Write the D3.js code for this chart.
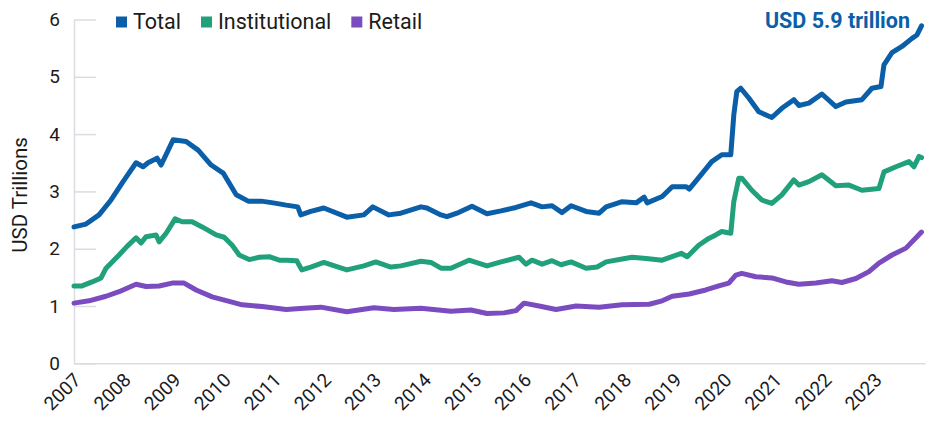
<!DOCTYPE html>
<html>
<head>
<meta charset="utf-8">
<script src="https://cdn.jsdelivr.net/npm/d3@7"></script>
<style>
  html, body { margin: 0; padding: 0; background: #fff; }
  svg { display: block; font-family: Roboto, "Noto Sans", sans-serif; }
</style>
</head>
<body>
<svg id="chart" width="927" height="421"></svg>
<script>
// ---- data (decimal year, USD trillions) ----
const years = [2007, 2008, 2009, 2010, 2011, 2012, 2013, 2014, 2015, 2016, 2017, 2018, 2019, 2020, 2021, 2022, 2023];
const yTicks = [0, 1, 2, 3, 4, 5, 6];
const seriesNames = ["Total", "Institutional", "Retail"];

const totalData = [
  [2007.00, 2.38], [2007.24, 2.43], [2007.50, 2.59], [2007.74, 2.85], [2007.98, 3.17],
  [2008.24, 3.50], [2008.38, 3.43], [2008.48, 3.50], [2008.66, 3.58], [2008.74, 3.46],
  [2008.98, 3.90], [2009.24, 3.87], [2009.48, 3.72], [2009.74, 3.46], [2009.98, 3.32],
  [2010.24, 2.94], [2010.48, 2.83], [2010.74, 2.83], [2010.98, 2.80], [2011.24, 2.76],
  [2011.47, 2.73], [2011.53, 2.59], [2011.73, 2.65], [2011.99, 2.71], [2012.45, 2.55],
  [2012.79, 2.59], [2012.97, 2.73], [2013.29, 2.59], [2013.53, 2.62], [2013.93, 2.73],
  [2014.05, 2.71], [2014.33, 2.59], [2014.45, 2.56], [2014.65, 2.62], [2014.95, 2.74],
  [2015.25, 2.61], [2015.53, 2.66], [2015.83, 2.72], [2016.13, 2.80], [2016.35, 2.73],
  [2016.55, 2.75], [2016.75, 2.63], [2016.93, 2.75], [2017.23, 2.65], [2017.49, 2.62],
  [2017.63, 2.73], [2017.95, 2.82], [2018.23, 2.80], [2018.39, 2.90], [2018.45, 2.80],
  [2018.75, 2.91], [2018.95, 3.08], [2019.23, 3.08], [2019.29, 3.04], [2019.48, 3.24],
  [2019.74, 3.52], [2019.94, 3.64], [2020.12, 3.64], [2020.18, 4.33], [2020.24, 4.74],
  [2020.32, 4.80], [2020.48, 4.63], [2020.68, 4.39], [2020.94, 4.29], [2021.14, 4.45],
  [2021.38, 4.60], [2021.48, 4.50], [2021.68, 4.54], [2021.94, 4.70], [2022.22, 4.48],
  [2022.42, 4.56], [2022.74, 4.60], [2022.94, 4.80], [2023.12, 4.83], [2023.18, 5.21],
  [2023.34, 5.42], [2023.54, 5.53], [2023.74, 5.67], [2023.84, 5.73], [2023.93, 5.89]
];

const institutionalData = [
  [2007.00, 1.35], [2007.16, 1.35], [2007.36, 1.42], [2007.54, 1.49], [2007.64, 1.66],
  [2007.90, 1.89], [2008.06, 2.04], [2008.24, 2.19], [2008.34, 2.10], [2008.44, 2.21],
  [2008.64, 2.24], [2008.70, 2.12], [2008.84, 2.27], [2009.02, 2.52], [2009.16, 2.47],
  [2009.36, 2.47], [2009.56, 2.38], [2009.84, 2.24], [2010.00, 2.20], [2010.16, 2.06],
  [2010.30, 1.89], [2010.50, 1.81], [2010.70, 1.85], [2010.90, 1.86], [2011.10, 1.80],
  [2011.25, 1.80], [2011.45, 1.79], [2011.55, 1.63], [2011.73, 1.68], [2011.99, 1.76],
  [2012.45, 1.63], [2012.79, 1.70], [2013.03, 1.77], [2013.33, 1.68], [2013.53, 1.70],
  [2013.93, 1.78], [2014.13, 1.76], [2014.33, 1.66], [2014.53, 1.66], [2014.89, 1.80],
  [2015.25, 1.70], [2015.53, 1.77], [2015.89, 1.85], [2016.03, 1.73], [2016.15, 1.80],
  [2016.35, 1.73], [2016.55, 1.79], [2016.73, 1.72], [2016.93, 1.77], [2017.23, 1.66],
  [2017.45, 1.68], [2017.63, 1.77], [2017.95, 1.82], [2018.15, 1.85], [2018.43, 1.83],
  [2018.75, 1.80], [2019.13, 1.92], [2019.25, 1.86], [2019.48, 2.06], [2019.68, 2.18],
  [2019.82, 2.24], [2019.94, 2.30], [2020.12, 2.27], [2020.18, 2.82], [2020.28, 3.23],
  [2020.34, 3.23], [2020.54, 3.02], [2020.74, 2.85], [2020.94, 2.79], [2021.14, 2.94],
  [2021.38, 3.20], [2021.48, 3.11], [2021.68, 3.17], [2021.94, 3.29], [2022.22, 3.10],
  [2022.48, 3.11], [2022.74, 3.02], [2023.08, 3.05], [2023.18, 3.34], [2023.42, 3.43],
  [2023.68, 3.52], [2023.78, 3.43], [2023.88, 3.61], [2023.93, 3.59]
];

const retailData = [
  [2007.00, 1.05], [2007.30, 1.09], [2007.64, 1.17], [2007.90, 1.25], [2008.24, 1.38],
  [2008.44, 1.34], [2008.70, 1.35], [2008.96, 1.40], [2009.20, 1.40], [2009.44, 1.28],
  [2009.76, 1.16], [2010.10, 1.08], [2010.36, 1.02], [2010.76, 0.99], [2011.24, 0.94],
  [2011.59, 0.96], [2011.93, 0.98], [2012.45, 0.90], [2012.99, 0.97], [2013.39, 0.94],
  [2013.93, 0.96], [2014.53, 0.91], [2014.93, 0.93], [2015.25, 0.87], [2015.59, 0.88],
  [2015.83, 0.92], [2015.99, 1.05], [2016.29, 1.00], [2016.63, 0.94], [2017.03, 1.00],
  [2017.49, 0.98], [2017.95, 1.02], [2018.49, 1.03], [2018.75, 1.09], [2018.95, 1.17],
  [2019.29, 1.21], [2019.62, 1.28], [2019.88, 1.35], [2020.08, 1.40], [2020.22, 1.54],
  [2020.34, 1.57], [2020.62, 1.51], [2020.94, 1.49], [2021.22, 1.42], [2021.48, 1.38],
  [2021.82, 1.40], [2022.14, 1.44], [2022.34, 1.41], [2022.62, 1.48], [2022.88, 1.60],
  [2023.08, 1.75], [2023.34, 1.89], [2023.62, 2.01], [2023.93, 2.29]
];

const annotationText = "USD 5.9 trillion";
const yTitle = "USD Trillions";

// ---- styles ----
const colors = { "Total": "#0a5fa8", "Institutional": "#21a07c", "Retail": "#7a4cc0" };
const gridColor = "#d9dde2";
const textColor = "#1b1b1b";

const svg = d3.select("#chart");

const x = d3.scaleLinear().domain([2007, 2024]).range([74, 925]);
const y = d3.scaleLinear().domain([0, 6]).range([363.3, 19.5]);

// Y axis (inward short ticks)
const yAxis = d3.axisLeft(y).tickValues(yTicks).tickSize(-22).tickSizeOuter(0).tickPadding(14)
  .tickFormat(d3.format("d"));
const gy = svg.append("g").attr("transform", `translate(${74},0)`).call(yAxis);
gy.select(".domain").attr("stroke", gridColor).attr("stroke-width", 1.5);
gy.selectAll(".tick line").attr("stroke", gridColor).attr("stroke-width", 1.5);
gy.selectAll(".tick text").attr("fill", textColor).style("font-size", "19px").style("font-family", "Roboto");

// X axis
const xAxis = d3.axisBottom(x).tickValues(years).tickSize(0).tickSizeOuter(0).tickFormat(d3.format("d"));
const gx = svg.append("g").attr("transform", `translate(0,${y(0)})`).call(xAxis);
gx.select(".domain").attr("stroke", gridColor).attr("stroke-width", 1.5);
gx.selectAll(".tick text")
  .attr("fill", textColor)
  .style("font-size", "19px").style("font-family", "Roboto")
  .attr("text-anchor", "end")
  .attr("x", 0).attr("y", 0).attr("dy", 0)
  .attr("transform", "translate(7.5,18) rotate(-45)");

// Y title
svg.append("text")
  .attr("transform", `translate(27,195) rotate(-90)`)
  .attr("text-anchor", "middle")
  .attr("fill", textColor)
  .style("font-size", "20.5px")
  .text(yTitle);

// Lines
const line = d3.line().x(d => x(d[0])).y(d => y(d[1])).curve(d3.curveLinear);
const series = [
  { name: "Retail", data: retailData },
  { name: "Institutional", data: institutionalData },
  { name: "Total", data: totalData }
];
svg.append("g").selectAll("path").data(series).join("path")
  .attr("d", d => line(d.data))
  .attr("fill", "none")
  .attr("stroke", d => colors[d.name])
  .attr("stroke-width", 5)
  .attr("stroke-linejoin", "round")
  .attr("stroke-linecap", "round");

// Annotation
svg.append("text")
  .attr("x", 910).attr("y", 28)
  .attr("text-anchor", "end")
  .attr("fill", colors["Total"])
  .style("font-size", "21.5px").style("font-weight", "700")
  .text(annotationText);

// Legend
const legend = svg.append("g").attr("transform", "translate(116,0)");
let lx = 0;
seriesNames.forEach(name => {
  legend.append("rect").attr("x", lx).attr("y", 16.5).attr("width", 11).attr("height", 11)
    .attr("fill", colors[name]);
  const t = legend.append("text").attr("x", lx + 17).attr("y", 28.5)
    .attr("fill", textColor).style("font-size", "21.5px").text(name);
  lx += 17 + t.node().getComputedTextLength() + 20;
});
</script>
</body>
</html>
